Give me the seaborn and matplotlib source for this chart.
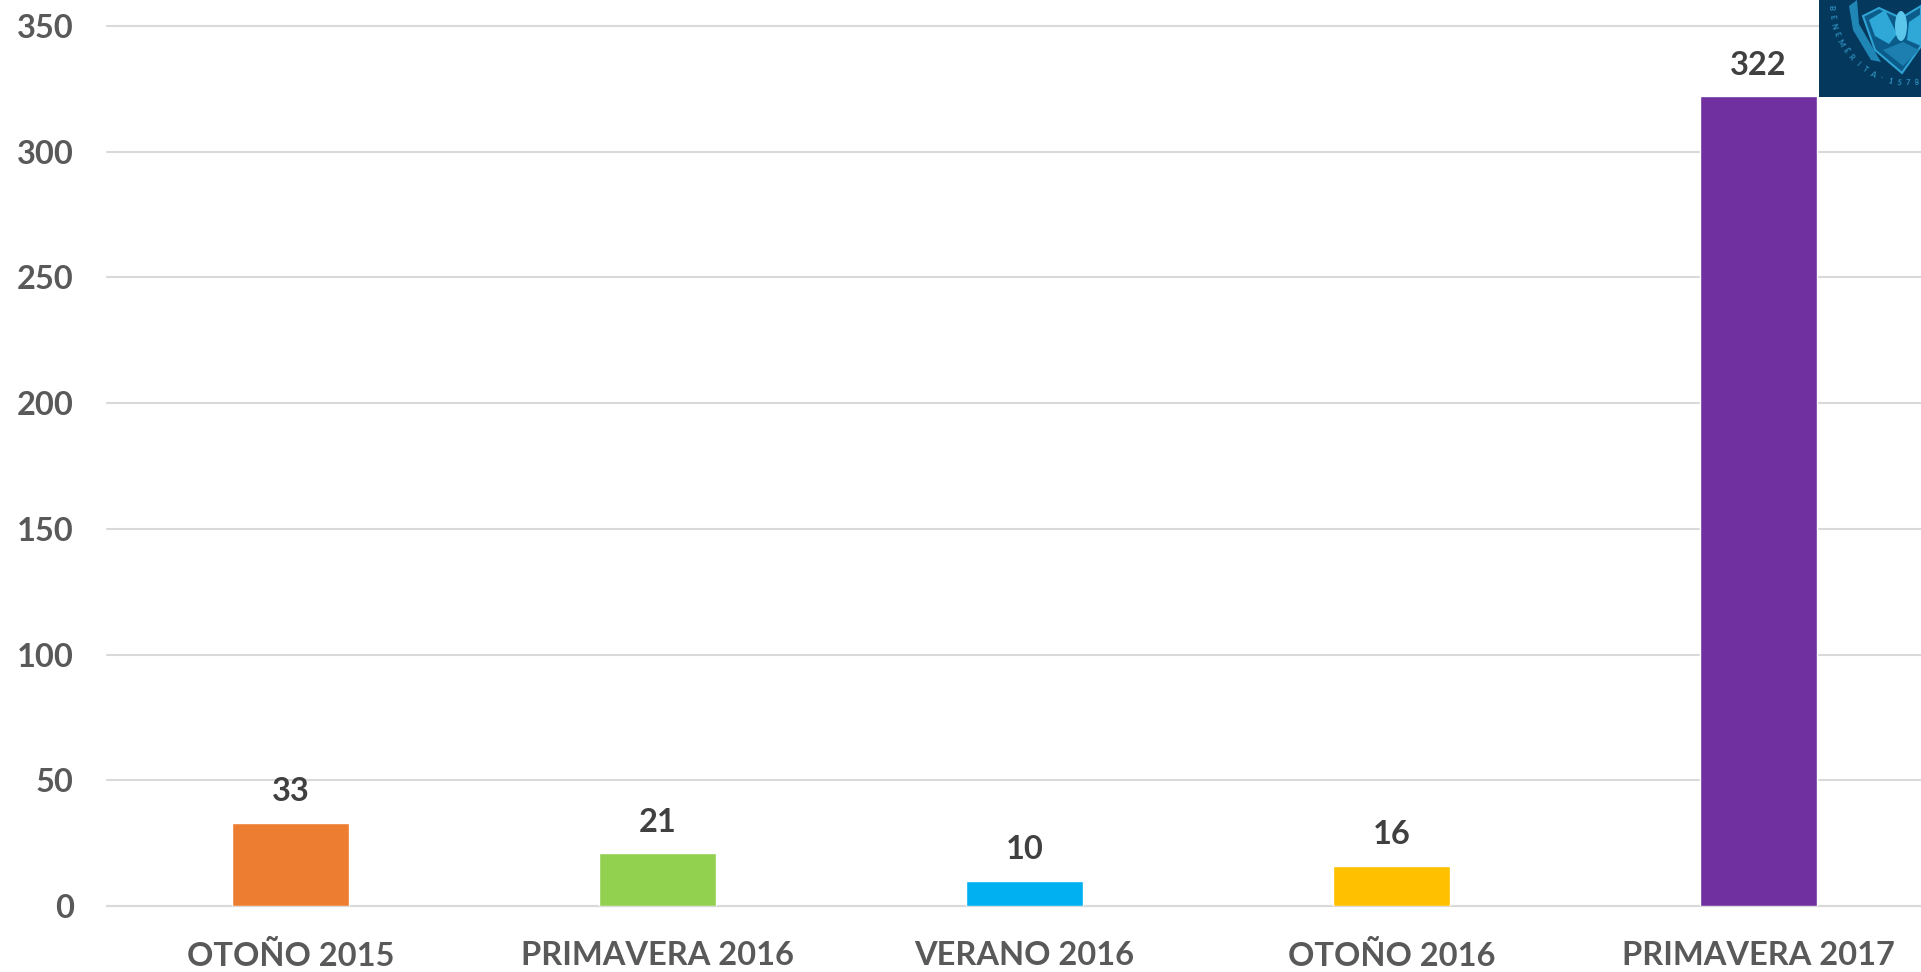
import matplotlib
matplotlib.use('Agg')
import matplotlib.pyplot as plt
import matplotlib.patches as mpatches
import numpy as np
import seaborn as sns
import pandas as pd

periodos = ['OTOÑO 2015', 'PRIMAVERA 2016', 'VERANO 2016', 'OTOÑO 2016', 'PRIMAVERA 2017']
alumnos = [33, 21, 10, 16, 322]
colores = ['#ED7D31', '#92D050', '#00B0F0', '#FFC000', '#7030A0']
y_ticks = [0, 50, 100, 150, 200, 250, 300, 350]

W, H = 1921, 972

sns.set_theme(style='white')
plt.rcParams['font.family'] = ['Lato', 'DejaVu Sans']

df = pd.DataFrame({'periodo': periodos, 'alumnos': alumnos})

fig = plt.figure(figsize=(W / 100, H / 100), dpi=100)
ax = fig.add_axes([107 / W, 1 - 906 / H, (W - 107) / W, (906 - 26) / H])

sns.barplot(data=df, x='periodo', y='alumnos', hue='periodo', palette=colores,
            width=0.32, saturation=1, legend=False, ax=ax, zorder=3)

ax.set_xlim(-0.5, 4.443)
ax.set_ylim(0, 350)
ax.set_yticks(y_ticks)
ax.set_xlabel('')
ax.set_ylabel('')
ax.grid(axis='y', color='#D9D9D9', linewidth=1.5, zorder=0)
ax.set_axisbelow(True)
sns.despine(ax=ax, left=True, top=True, right=True)
ax.spines['bottom'].set_color('#D9D9D9')
ax.spines['bottom'].set_linewidth(1.5)
ax.patch.set_alpha(0)
for s in ax.spines.values():
    s.set_clip_on(False)
for l in ax.get_ygridlines():
    l.set_clip_on(False)

ax.tick_params(axis='y', length=0, pad=24, labelsize=23.5, labelcolor='#595959')
ax.tick_params(axis='x', length=0, pad=25, labelsize=23.5, labelcolor='#595959')
for t in ax.get_yticklabels() + ax.get_xticklabels():
    t.set_fontweight('bold')

for c in ax.containers:
    ax.bar_label(c, padding=12, fontsize=23.5, fontweight='bold', color='#404040')

# logo recortado arriba a la derecha
logo = fig.add_axes([1819 / W, 1 - 97 / H, 102 / W, 97 / H])
logo.set_xlim(0, 102)
logo.set_ylim(97, 0)
logo.axis('off')
logo.add_patch(mpatches.Rectangle((0, 0), 102, 97, fc='#04385C', ec='none'))
logo.add_patch(mpatches.Polygon([(44, 16), (60, 8), (82, 18), (102, 6), (102, 46), (83, 73), (56, 50)],
                                closed=True, fc='#0B5C8A', ec='#2FA3D3', lw=1.5))
logo.add_patch(mpatches.Polygon([(50, 20), (66, 10), (78, 34), (70, 44), (56, 36)],
                                closed=True, fc='#2FA8D8', ec='none'))
logo.add_patch(mpatches.Polygon([(102, 14), (90, 22), (88, 40), (102, 46)],
                                closed=True, fc='#2FA8D8', ec='none'))
logo.add_patch(mpatches.Ellipse((82, 26), 12, 30, fc='#5CC6EA', ec='none'))
logo.add_patch(mpatches.Polygon([(64, 50), (84, 42), (100, 50), (84, 66)],
                                closed=True, fc='#1C7FB0', ec='none'))
logo.add_patch(mpatches.Polygon([(30, 6), (38, 0), (40, 24), (62, 62), (52, 60), (34, 30)],
                                closed=True, fc='#1F86B6', ec='none'))

anillo = list('BENEMÉRITA') + ['·'] + list('1578')
for letra, ang in zip(anillo, np.linspace(178, 84, len(anillo))):
    rad = np.deg2rad(ang)
    logo.text(90 + 78 * np.cos(rad), 5 + 78 * np.sin(rad), letra, fontsize=5.5,
              color='#2E8FBE', ha='center', va='center', rotation=90 - ang,
              fontweight='bold', clip_on=True)

fig.savefig('out.png', dpi=100)
